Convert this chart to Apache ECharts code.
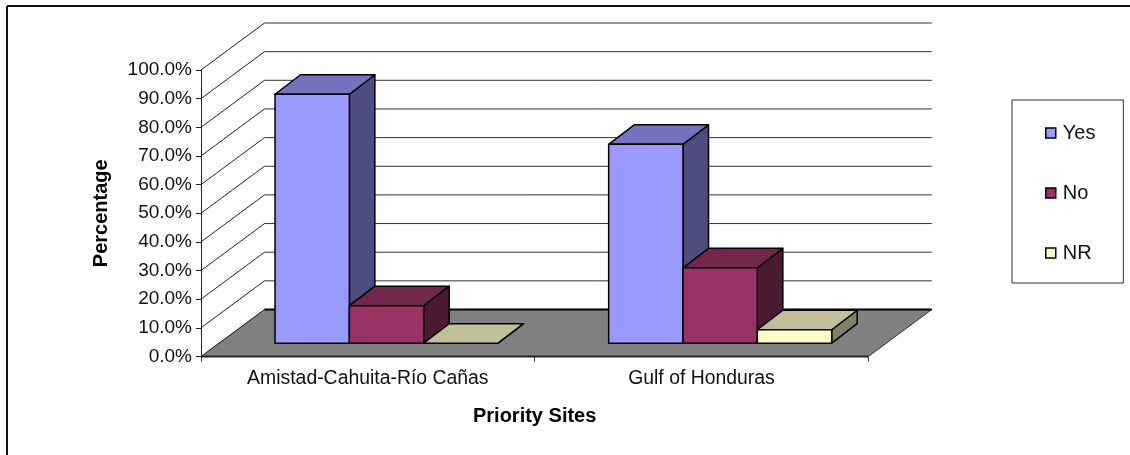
<!DOCTYPE html>
<html><head><meta charset="utf-8">
<style>html,body{margin:0;padding:0;background:#fff}#c{width:1130px;height:455px}</style>
<script src="https://cdn.jsdelivr.net/npm/echarts@6/dist/echarts.min.js"></script>
</head><body><div id="c"></div>
<script>
var categories = ['Amistad-Cahuita-Río Cañas', 'Gulf of Honduras'];
var yesValues = [86.9, 69.4];
var noValues = [13.1, 26.3];
var nrValues = [0, 4.7];
var yTicks = [0,10,20,30,40,50,60,70,80,90,100];

var FONT = '"Liberation Sans", Arial, sans-serif';
var WALL = {dx: 63.5, dy: -47};      // depth of the plot box
var FRONT = {dx: 18.7, dy: -13.3};   // where bars start inside the box
var BAR = {dx: 25.5, dy: -19.5};     // depth of one bar
var BAR_SHARE = 74.3 / 333.5;        // bar width as share of category band

function line(x1,y1,x2,y2,w,c){
  return {type:'line',shape:{x1:x1,y1:y1,x2:x2,y2:y2},style:{stroke:c||'#222',lineWidth:w||1}};
}
function renderFloor(params, api){
  var cs = params.coordSys, x0 = cs.x, x1 = cs.x + cs.width, y = cs.y + cs.height;
  var d = WALL;
  return {type:'group',children:[
    {type:'polygon',shape:{points:[[x0,y],[x1,y],[x1+d.dx,y+d.dy],[x0+d.dx,y+d.dy]]},
     style:{fill:'#808080',stroke:null}},
    line(x0,y,x0+d.dx,y+d.dy,1,'#111'),
    line(x1,y,x1+d.dx,y+d.dy,1,'#333'),
    line(x0+d.dx,y+d.dy,x1+d.dx,y+d.dy,2,'#000'),
    line(x0,y,x1,y,2,'#222')
  ]};
}
function renderWall(params, api){
  var cs = params.coordSys, v = api.value(0);
  if (v === 0) return;
  var y = api.coord([0, v])[1];
  var x0 = cs.x + WALL.dx, x1 = cs.x + cs.width + WALL.dx, yb = y + WALL.dy;
  return {type:'group',children:[
    line(cs.x, y, x0, yb, 1, '#222'),
    line(x0, yb, x1, yb, 1, '#333')
  ]};
}
function barRenderer(seriesIndex, colors){
  return function(params, api){
    var cat = api.value(0), val = api.value(1);
    var band = api.size([1,0])[0];
    var w = band * BAR_SHARE;
    var cx = api.coord([cat,0])[0] + FRONT.dx;
    var base = api.coord([cat,0])[1] + FRONT.dy;
    var h = base - (api.coord([cat,val])[1] + FRONT.dy);
    var xl = cx + w * (seriesIndex - 1.5), xr = xl + w;
    var top = base - h;
    function st(f){return {fill:f,stroke:'#000',lineWidth:1.5,lineJoin:'round'};}
    var kids = [
      {type:'polygon',shape:{points:[[xr,top],[xr+BAR.dx,top+BAR.dy],[xr+BAR.dx,base+BAR.dy],[xr,base]]},style:st(colors[2])},
      {type:'polygon',shape:{points:[[xl,top],[xr,top],[xr+BAR.dx,top+BAR.dy],[xl+BAR.dx,top+BAR.dy]]},style:st(colors[1])}
    ];
    if (h > 0.5) kids.push({type:'rect',shape:{x:xl,y:top,width:w,height:h},style:st(colors[0])});
    return {type:'group',children:kids};
  };
}
function barData(vals){ return vals.map(function(v,i){return [i,v];}); }
function barSeries(name, vals, idx, colors, z){
  return {name:name,type:'custom',coordinateSystem:'cartesian2d',clip:false,silent:true,z:z,
    itemStyle:{color:colors[0]},
    encode:{x:0,y:1},data:barData(vals),renderItem:barRenderer(idx,colors)};
}

var chart = echarts.init(document.getElementById('c'),null,{renderer:'canvas'});
chart.setOption({
  animation:false,
  backgroundColor:'#fff',
  graphic:[
    {type:'line',shape:{x1:7,y1:6,x2:1130,y2:6},style:{stroke:'#111',lineWidth:2}},
    {type:'line',shape:{x1:7,y1:6,x2:7,y2:455},style:{stroke:'#111',lineWidth:2}}
  ],
  grid:{left:201,right:261.7,top:70,bottom:98.5},
  legend:{
    orient:'vertical',left:1012,top:100,
    data:['Yes','No','NR'],
    icon:'rect',itemWidth:10,itemHeight:10,itemGap:36,
    padding:[21,28,18,33],
    borderColor:'#333',borderWidth:1,
    itemStyle:{borderColor:'#000',borderWidth:1.5},
    textStyle:{fontFamily:FONT,fontSize:20,color:'#111',padding:[2,0,0,2],lineHeight:22}
  },
  xAxis:{type:'category',data:categories,
    axisLine:{show:false},
    axisTick:{show:true,length:5,alignWithLabel:false,lineStyle:{color:'#333'}},
    axisLabel:{fontFamily:FONT,fontSize:19.4,color:'#111',margin:13},
    name:'Priority Sites',nameLocation:'middle',nameGap:50,
    nameTextStyle:{fontFamily:FONT,fontSize:20,fontWeight:'bold',color:'#000'}
  },
  yAxis:{type:'value',min:0,max:100,interval:10,
    axisLine:{show:true,lineStyle:{color:'#222'}},
    axisTick:{show:true,length:5,lineStyle:{color:'#222'}},
    splitLine:{show:false},
    axisLabel:{fontFamily:FONT,fontSize:19,color:'#111',margin:9,
      formatter:function(v){return v.toFixed(1)+'%';}},
    name:'Percentage',nameLocation:'middle',nameGap:90,nameRotate:90,
    nameTextStyle:{fontFamily:FONT,fontSize:20,fontWeight:'bold',color:'#000'}
  },
  series:[
    {type:'custom',name:'floor',coordinateSystem:'cartesian2d',clip:false,silent:true,z:1,
     data:[[0,0]],encode:{x:0,y:1},renderItem:renderFloor},
    {type:'custom',name:'walls',coordinateSystem:'cartesian2d',clip:false,silent:true,z:2,
     data:yTicks.map(function(v){return [v];}),encode:{y:0},renderItem:renderWall},
    barSeries('Yes',yesValues,0,['#9999FF','#7373BF','#4D4D80'],3),
    barSeries('No',noValues,1,['#993366','#73264C','#4D1A33'],4),
    barSeries('NR',nrValues,2,['#FFFFCC','#BFBF99','#808066'],5)
  ]
});
</script></body></html>
